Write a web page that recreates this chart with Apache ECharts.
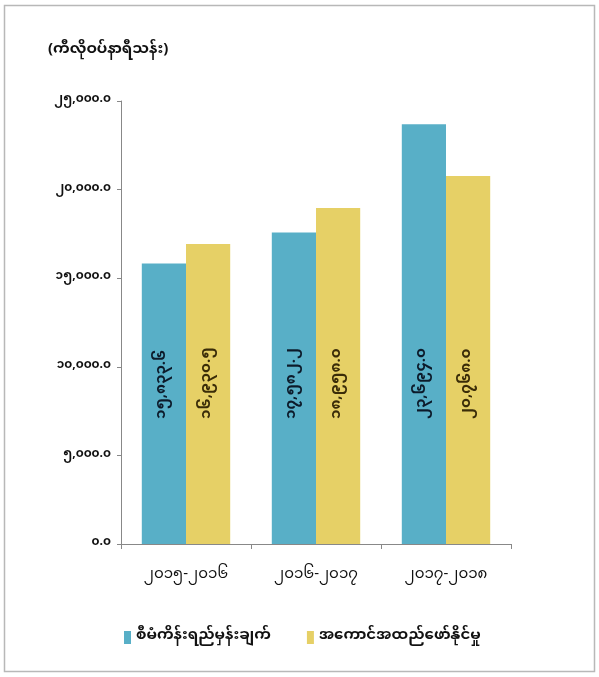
<!DOCTYPE html>
<html>
<head>
<meta charset="utf-8">
<script src="https://cdn.jsdelivr.net/npm/echarts@6/dist/echarts.min.js"></script>
<style>
html,body{margin:0;padding:0;background:#fff;}
#c{width:599px;height:677px;}
</style>
</head>
<body>
<div id="c"></div>
<script>
var categories = ['၂၀၁၅-၂၀၁၆', '၂၀၁၆-၂၀၁၇', '၂၀၁၇-၂၀၁၈'];
var seriesNames = ['စီမံကိန်းရည်မှန်းချက်', 'အကောင်အထည်ဖော်နိုင်မှု'];
var planValues = [15833.6, 17582.2, 23694.0];
var actualValues = [16930.5, 18958.0, 20768.0];
var unitTitle = '(ကီလိုဝပ်နာရီသန်း)';
var yMin = 0, yMax = 25000, yStep = 5000;

var MY = ['၀','၁','၂','၃','၄','၅','၆','၇','၈','၉'];
function toMy(s){ return String(s).replace(/[0-9]/g, function(d){ return MY[+d]; }); }
function fmt(v){
  return toMy(Number(v).toLocaleString('en-US',{minimumFractionDigits:1, maximumFractionDigits:1}));
}

var FONT = '"Noto Sans Myanmar","Myanmar Text","Padauk","Noto Sans","DejaVu Sans",sans-serif';
var chart = echarts.init(document.getElementById('c'), null, {renderer:'canvas'});
var barLabel = function(color){
  return {
    show: true, rotate: 90, position: 'insideBottom', distance: 125,
    align: 'left', verticalAlign: 'middle',
    color: color, fontWeight: 'bold', fontSize: 15, fontFamily: FONT,
    formatter: function(p){ return fmt(p.value); }
  };
};
chart.setOption({
  animation: false,
  backgroundColor: '#ffffff',
  textStyle: {fontFamily: FONT},
  graphic: [
    {type:'rect', shape:{x:4.5, y:5.5, width:590, height:666}, style:{fill:'none', stroke:'#b8b8b8', lineWidth:1.5}},
    {type:'text', left: 48, top: 44, style:{text: unitTitle, fontSize:15, fontWeight:'bold', fill:'#111', fontFamily: FONT}}
  ],
  grid: {left:121, right:88, top:101, bottom:133, containLabel:false},
  legend: {
    bottom: 27, left: 119, itemWidth: 7, itemHeight: 13, itemGap: 36,
    icon: 'rect',
    textStyle: {fontSize: 15, fontWeight: 'bold', color: '#111', fontFamily: FONT},
    data: seriesNames
  },
  xAxis: {
    type: 'category', data: categories,
    axisLine: {lineStyle: {color: '#888', width: 1}},
    axisTick: {show: true, length: 5, lineStyle:{color:'#888'}},
    axisLabel: {fontSize: 15, color: '#111', margin: 25, fontFamily: FONT}
  },
  yAxis: {
    type: 'value', min: yMin, max: yMax, interval: yStep,
    axisLine: {show: true, lineStyle: {color: '#888', width: 1}},
    axisTick: {show: true, length: 4, lineStyle:{color:'#888'}},
    splitLine: {show: false},
    axisLabel: {fontSize: 12, fontWeight: 'bold', color: '#111', margin: 10, fontFamily: FONT, formatter: fmt}
  },
  series: [
    {name: seriesNames[0], type: 'bar', data: planValues, barGap: '0%', barCategoryGap: '32%',
     itemStyle: {color: '#58AFC7'}, label: barLabel('#0c1a2a')},
    {name: seriesNames[1], type: 'bar', data: actualValues,
     itemStyle: {color: '#E6D066'}, label: barLabel('#3a2c08')}
  ]
});
</script>
</body>
</html>
